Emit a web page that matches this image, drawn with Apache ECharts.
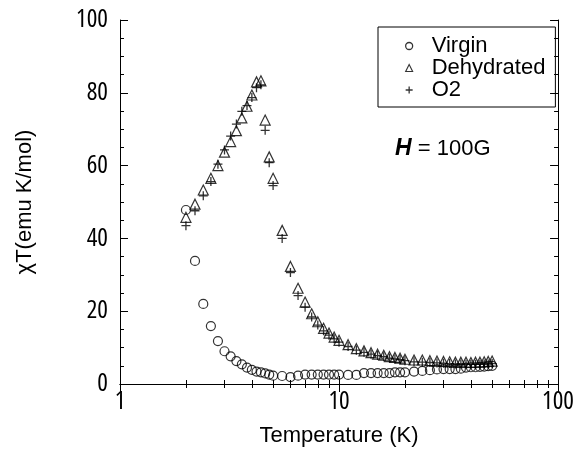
<!DOCTYPE html>
<html>
<head>
<meta charset="utf-8">
<script src="https://cdn.jsdelivr.net/npm/echarts@6/dist/echarts.min.js"></script>
<style>html,body{margin:0;padding:0;background:#fff;}#c{width:577px;height:452px;}</style>
</head>
<body>
<div id="c"></div>
<script>
// Temperature (K) shared by all three series
const temperature = [2.0,2.2,2.4,2.6,2.8,3.0,3.2,3.4,3.6,3.8,4.0,4.2,4.4,4.6,4.8,5.0,
  5.5,6.0,6.5,7.0,7.5,8.0,8.5,9.0,9.5,10,11,12,13,14,15,16,17,18,19,20,
  22,24,26,28,30,32,34,36,38,40,42,44,46,48,50];
const virgin = [47.8,33.8,22.0,15.9,11.8,9.0,7.6,6.3,5.4,4.5,3.9,3.4,3.2,2.9,2.6,2.3,
  2.2,1.9,2.3,2.6,2.6,2.6,2.6,2.6,2.6,2.6,2.5,2.5,3.0,3.0,3.0,3.0,3.0,3.2,3.2,3.2,
  3.4,3.6,3.8,4.0,4.1,4.1,4.1,4.2,4.5,4.6,4.6,4.7,4.8,4.9,5.0];
const dehydrated = [45.8,49.4,53.3,56.5,60.0,63.7,66.6,69.6,73.1,76.3,79.4,83.0,83.3,72.5,62.4,56.5,
  42.2,32.3,26.3,22.5,19.3,17.1,15.3,14.0,12.9,12.0,10.8,9.7,9.1,8.6,8.2,7.9,7.5,7.3,7.1,6.8,
  6.6,6.6,6.4,6.3,6.2,6.1,6.0,6.0,6.0,5.9,6.0,6.0,6.1,6.2,6.3];
const o2 = [43.5,47.6,51.7,55.6,60.4,64.3,68.1,71.4,74.9,76.5,78.7,81.4,82.2,69.7,60.8,54.5,
  40.0,30.6,24.3,21.1,18.4,16.2,14.6,13.4,12.4,11.5,10.3,9.3,8.7,8.2,7.8,7.5,7.1,6.9,6.7,6.4,
  6.1,6.0,5.9,5.8,5.7,5.6,5.5,5.5,5.4,5.4,5.4,5.4,5.5,5.5,5.6];
const seriesNames = ['Virgin','Dehydrated','O2'];
const xTitle = 'Temperature (K)';
const yTitle = 'χT(emu K/mol)';
const fieldNote = 'H';
const fieldValue = ' = 100G';

const FONT = "'Liberation Sans',sans-serif";
const NUMFONT = "'Open Sans'";
const PLUS = 'path://M5,0V10M0,5H10';
const pair = arr => temperature.map((t,i)=>[t,arr[i]]);
const hollow = {color:'rgba(0,0,0,0)', borderColor:'#000', borderWidth:1.2};

const chart = echarts.init(document.getElementById('c'), null, {renderer:'canvas'});
const axisCommon = {
  axisLine:{show:true, lineStyle:{color:'#000', width:1}},
  axisTick:{show:true, inside:true, length:8, lineStyle:{color:'#000'}},
  splitLine:{show:false}
};
chart.setOption({
  animation:false,
  backgroundColor:'#fff',
  textStyle:{fontFamily:FONT},
  grid:{left:120, right:16, top:20, bottom:60},
  xAxis:[
    Object.assign({type:'log', logBase:10, min:1, max:100, position:'bottom',
      name:xTitle, nameLocation:'middle', nameGap:41,
      nameTextStyle:{fontFamily:FONT, fontSize:22, color:'#000'},
      axisLabel:{fontFamily:NUMFONT, fontWeight:'condensed', fontSize:25, color:'#000', margin:5}}, axisCommon,
      {minorTick:{show:true, splitNumber:9, length:4, lineStyle:{color:'#000'}}}),
    Object.assign({type:'log', logBase:10, min:1, max:100, position:'top',
      axisLabel:{show:false}}, axisCommon,
      {minorTick:{show:true, splitNumber:9, length:4, lineStyle:{color:'#000'}}})
  ],
  yAxis:[
    Object.assign({type:'value', min:0, max:100, interval:20, position:'left',
      name:yTitle, nameLocation:'middle', nameGap:84,
      nameTextStyle:{fontFamily:FONT, fontSize:22, color:'#000'},
      axisLabel:{fontFamily:NUMFONT, fontWeight:'condensed', fontSize:25, color:'#000', margin:12}}, axisCommon,
      {minorTick:{show:true, splitNumber:4, length:4, lineStyle:{color:'#000'}}}),
    Object.assign({type:'value', min:0, max:100, interval:20, position:'right',
      axisLabel:{show:false}}, axisCommon,
      {minorTick:{show:true, splitNumber:4, length:4, lineStyle:{color:'#000'}}})
  ],
  legend:{
    orient:'vertical', left:378, top:27,
    borderColor:'#000', borderWidth:1, borderRadius:0,
    padding:[8,10,6,27],
    itemWidth:7, itemHeight:7, itemGap:0,
    textStyle:{fontFamily:FONT, fontSize:22, color:'#000', lineHeight:21, width:110, padding:[0,0,0,14]},
    data:[
      {name:seriesNames[0], icon:'circle', itemStyle:{color:'rgba(0,0,0,0)', borderColor:'#000', borderWidth:1.3}},
      {name:seriesNames[1], icon:'triangle', itemStyle:{color:'rgba(0,0,0,0)', borderColor:'#000', borderWidth:1.1}},
      {name:seriesNames[2], icon:PLUS, itemStyle:{color:'rgba(0,0,0,0)', borderColor:'#000', borderWidth:1.3}}
    ]
  },
  graphic:[{
    type:'text', left:395, top:137, silent:true,
    style:{
      text:'{i|'+fieldNote+'}{n|'+fieldValue+'}',
      rich:{
        i:{fontFamily:FONT, fontSize:23, fontWeight:'bold', fontStyle:'italic', fill:'#000', color:'#000'},
        n:{fontFamily:FONT, fontSize:22, fill:'#000', color:'#000'}
      }
    }
  }],
  series:[
    {name:seriesNames[0], type:'scatter', symbol:'circle', symbolSize:9, data:pair(virgin), itemStyle:hollow},
    {name:seriesNames[1], type:'scatter', symbol:'triangle', symbolSize:10, data:pair(dehydrated), itemStyle:hollow},
    {name:seriesNames[2], type:'scatter', symbol:PLUS, symbolSize:9, data:pair(o2), itemStyle:{color:'rgba(0,0,0,0)', borderColor:'#000', borderWidth:1.3}}
  ]
});
</script>
</body>
</html>
